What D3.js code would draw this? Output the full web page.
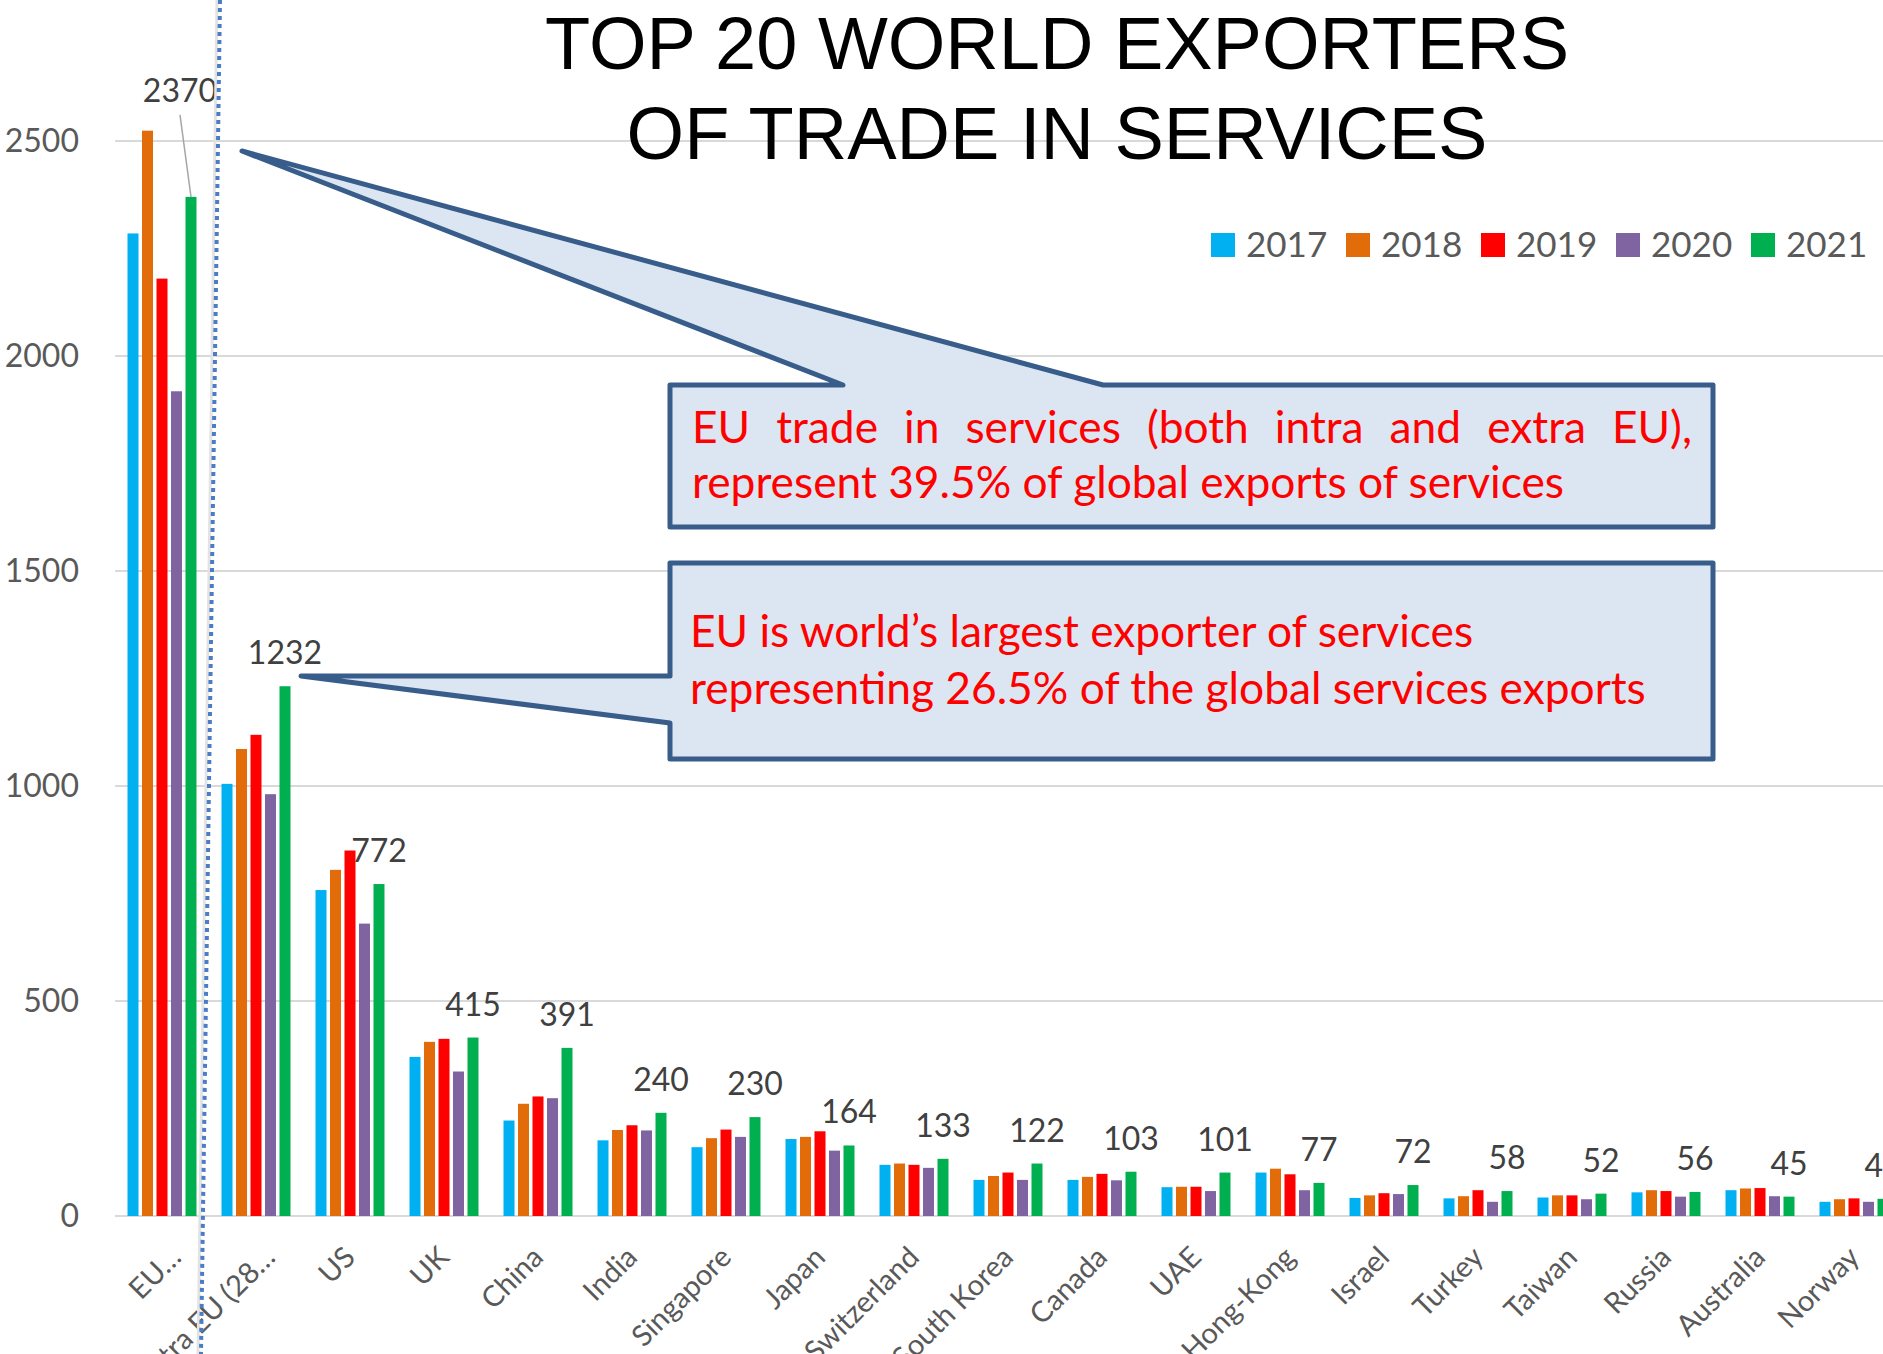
<!DOCTYPE html>
<html>
<head>
<meta charset="utf-8">
<script src="https://cdn.jsdelivr.net/npm/d3@7"></script>
<style>
  html, body { margin: 0; padding: 0; background: #ffffff; overflow: hidden; }
  svg { display: block; }
</style>
</head>
<body>
<svg id="chart" width="1883" height="1354"></svg>
<script>
// ---------------- DATA ----------------
const categories = ["EU\u2026", "Extra EU (28\u2026", "US", "UK", "China", "India", "Singapore", "Japan",
  "Switzerland", "South Korea", "Canada", "UAE", "Hong-Kong", "Israel", "Turkey", "Taiwan",
  "Russia", "Australia", "Norway"];
const years = ["2017", "2018", "2019", "2020", "2021"];
const v2017 = [2285, 1005, 758, 370, 222, 176, 160, 179, 119, 84, 84, 67, 101, 42, 41, 43, 55, 60, 33];
const v2018 = [2524, 1086, 805, 405, 261, 200, 181, 184, 122, 93, 91, 68, 110, 48, 46, 48, 60, 64, 39];
const v2019 = [2180, 1119, 850, 412, 278, 211, 201, 197, 119, 101, 98, 68, 97, 53, 60, 48, 58, 65, 41];
const v2020 = [1918, 981, 680, 336, 274, 199, 184, 152, 112, 84, 83, 58, 60, 51, 33, 39, 45, 46, 33];
const v2021 = [2370, 1232, 772, 415, 391, 240, 230, 164, 133, 122, 103, 101, 77, 72, 58, 52, 56, 45, 40];
const yTicks = [0, 500, 1000, 1500, 2000, 2500];
const titleLines = ["TOP 20 WORLD EXPORTERS", "OF TRADE IN SERVICES"];
const callout1Lines = ["EU trade in services (both intra and extra EU),", "represent 39.5% of global exports of services"];
const callout2Lines = ["EU is world\u2019s largest exporter of services", "representing 26.5% of the global services exports"];

const seriesValues = [v2017, v2018, v2019, v2020, v2021];
const colors = ["#00b0f0", "#e36c0a", "#ff0000", "#8064a2", "#00b050"];

// ---------------- LAYOUT ----------------
const svg = d3.select("#chart");
const plotLeft = 115, plotRight = 1883;
const stepX = 94;
const y = d3.scaleLinear().domain([0, 2500]).range([1216, 141]);
const x0 = d3.scaleBand().domain(categories)
  .range([plotLeft, plotLeft + stepX * categories.length])
  .paddingInner(0.266).paddingOuter(0.133);
const x1 = d3.scaleBand().domain(years).range([0, x0.bandwidth()]).paddingInner(0.241);
const color = d3.scaleOrdinal().domain(years).range(colors);

const textGray = "#595959";
const font = "Lato, 'Open Sans', sans-serif";

// gridlines
svg.append("g").selectAll("line").data(yTicks).join("line")
  .attr("x1", plotLeft).attr("x2", plotRight)
  .attr("y1", d => y(d)).attr("y2", d => y(d))
  .attr("stroke", "#d9d9d9").attr("stroke-width", 2);

// y tick labels
svg.append("g").selectAll("text").data(yTicks).join("text")
  .attr("x", 79).attr("y", d => y(d) + 11)
  .attr("text-anchor", "end")
  .attr("font-family", font).attr("font-size", 32).attr("fill", textGray)
  .text(d => d);

// bars
const groups = svg.append("g").selectAll("g").data(categories).join("g")
  .attr("transform", d => `translate(${x0(d)},0)`);
groups.selectAll("rect")
  .data((c, i) => years.map((yr, k) => ({ yr, v: seriesValues[k][i] })))
  .join("rect")
  .attr("x", d => x1(d.yr)).attr("width", x1.bandwidth())
  .attr("y", d => y(d.v)).attr("height", d => y(0) - y(d.v))
  .attr("fill", d => color(d.yr));

// x labels
svg.append("g").selectAll("text").data(categories).join("text")
  .attr("transform", d => {
    const cx = x0(d) + x0.bandwidth() / 2 + (d.endsWith("\u2026") ? 21 : 7);
    return `translate(${cx},1259) rotate(-45)`;
  })
  .attr("text-anchor", "end")
  .attr("font-family", font).attr("font-size", 29).attr("fill", textGray)
  .text(d => d);

// data labels (2021)
const greenCenter = c => x0(c) + x1("2021") + x1.bandwidth() / 2;
const dl = svg.append("g");
categories.forEach((c, i) => {
  const v = v2021[i];
  if (i === 0) {
    const lx = greenCenter(c) - 11, ly = y(v) - 95;
    dl.append("line").attr("x1", lx).attr("y1", ly + 13)
      .attr("x2", greenCenter(c)).attr("y2", y(v))
      .attr("stroke", "#a6a6a6").attr("stroke-width", 1.5);
    dl.append("text").attr("x", lx).attr("y", ly).attr("text-anchor", "middle")
      .attr("font-family", font).attr("font-size", 32).attr("fill", "#404040").text(v);
  } else {
    dl.append("text").attr("x", greenCenter(c)).attr("y", y(v) - 22)
      .attr("text-anchor", "middle")
      .attr("font-family", font).attr("font-size", 32).attr("fill", "#404040").text(v);
  }
});

// dotted separator line
svg.append("line").attr("x1", 217).attr("y1", 0).attr("x2", 198).attr("y2", 1354)
  .attr("stroke", "#e3e3e3").attr("stroke-width", 3);
svg.append("line").attr("x1", 220).attr("y1", 0).attr("x2", 201).attr("y2", 1354)
  .attr("stroke", "#4a7dc4").attr("stroke-width", 4).attr("stroke-dasharray", "4,4");

// legend
const lg = svg.append("g");
years.forEach((yr, k) => {
  const lx = 1211 + k * 135;
  lg.append("rect").attr("x", lx).attr("y", 233).attr("width", 24).attr("height", 24).attr("fill", color(yr));
  lg.append("text").attr("x", lx + 35).attr("y", 257)
    .attr("font-family", font).attr("font-size", 35).attr("fill", textGray).text(yr);
});

// title
svg.append("g").selectAll("text").data(titleLines).join("text")
  .attr("x", 1057).attr("y", (d, i) => 69 + i * 90)
  .attr("text-anchor", "middle")
  .attr("font-family", "'Liberation Sans', Arial, sans-serif").attr("font-size", 74).attr("fill", "#000")
  .text(d => d);

// callouts
const calloutFill = "#dce6f2", calloutStroke = "#385d8a";
svg.append("path")
  .attr("d", "M670,385 L843,385 L242,151 L1103,385 L1713,385 L1713,527 L670,527 Z")
  .attr("fill", calloutFill).attr("stroke", calloutStroke).attr("stroke-width", 5).attr("stroke-linejoin", "round");
svg.append("path")
  .attr("d", "M670,563 L1713,563 L1713,759 L670,759 L670,723 L301,676 L670,676 Z")
  .attr("fill", calloutFill).attr("stroke", calloutStroke).attr("stroke-width", 5).attr("stroke-linejoin", "round");

// fit callout font size by width of a reference line
const probe = svg.append("text").attr("font-family", font).attr("font-size", 40).text(callout2Lines[1]);
const natural = probe.node().getComputedTextLength();
probe.remove();
const cfs = 40 * 956 / natural;

function addText(x, yy, str, justifyWidth) {
  if (!justifyWidth) {
    svg.append("text").attr("x", x).attr("y", yy)
      .attr("font-family", font).attr("font-size", cfs).attr("fill", "#ff0000").text(str);
    return;
  }
  const words = str.split(" ");
  const widths = words.map(w => {
    const t = svg.append("text").attr("font-family", font).attr("font-size", cfs).text(w);
    const wd = t.node().getComputedTextLength(); t.remove(); return wd;
  });
  const gap = (justifyWidth - d3.sum(widths)) / (words.length - 1);
  let cx = x;
  words.forEach((w, i) => {
    svg.append("text").attr("x", cx).attr("y", yy)
      .attr("font-family", font).attr("font-size", cfs).attr("fill", "#ff0000").text(w);
    cx += widths[i] + gap;
  });
}
addText(692, 443, callout1Lines[0], 1000);
addText(692, 498, callout1Lines[1]);
addText(690, 647, callout2Lines[0]);
addText(690, 704, callout2Lines[1]);
</script>
</body>
</html>
